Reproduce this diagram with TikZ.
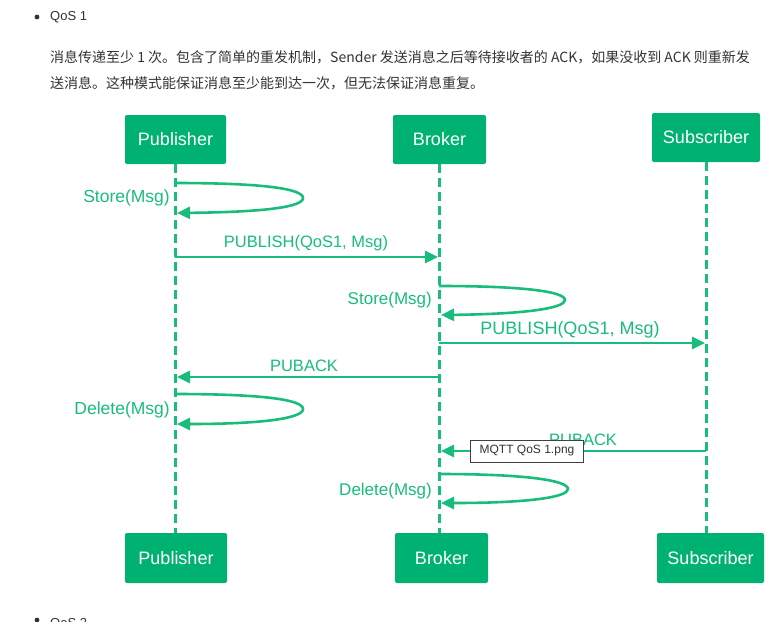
\documentclass[tikz,border=0pt]{standalone}
\usepackage{fontspec}
\setmainfont{Liberation Sans}
\newfontfamily\cjk{Noto Sans CJK SC}
\usetikzlibrary{arrows.meta}
\definecolor{boxgreen}{HTML}{00B272}
\definecolor{linegreen}{HTML}{19BD7B}
\definecolor{bodytext}{HTML}{333333}
\tikzset{
  actor/.style={fill=boxgreen, rounded corners=2pt, minimum width=101pt, minimum height=49pt, text=white, font=\fontsize{18}{21}\selectfont, inner sep=0pt},
  lifeline/.style={draw=linegreen, line width=3pt, dash pattern=on 9pt off 5pt},
  msg/.style={draw=linegreen, line width=2.6pt, -{Triangle[length=13pt,width=12pt]}},
  lbl/.style={text=linegreen, font=\fontsize{16.5}{19}\selectfont, inner sep=0pt},
  tip/.style={draw=black!75, fill=white, line width=0.8pt, font=\fontsize{12}{14}\selectfont, text=bodytext, inner sep=0pt, minimum width=113pt, minimum height=22pt}
}
\begin{document}
\begin{tikzpicture}[x=1pt,y=-1pt]
\useasboundingbox (0,0) rectangle (778,621);
\fill[white] (0,0) rectangle (778,621);
% header text
\node[circle, fill=bodytext, inner sep=1.7pt] (b1) at (37,17) {};
\node[anchor=west, text=bodytext, font=\fontsize{13}{15}\selectfont, inner sep=0pt] (h1) at (50,17) {QoS 1};
\node[anchor=west, text=bodytext, font=\cjk\fontsize{14}{16}\selectfont, inner sep=0pt] (p1) at (50,57) {消息传递至少 1 次。包含了简单的重发机制，Sender 发送消息之后等待接收者的 ACK，如果没收到 ACK 则重新发};
\node[anchor=west, text=bodytext, font=\cjk\fontsize{14}{16}\selectfont, inner sep=0pt] (p2) at (50,83) {送消息。这种模式能保证消息至少能到达一次，但无法保证消息重复。};
% actors
\node[actor] (pubT) at (175.5,139.5) {Publisher};
\node[actor, minimum width=93pt] (broT) at (439.5,139.5) {Broker};
\node[actor, minimum width=108pt] (subT) at (706,137.5) {Subscriber};
\node[actor, minimum width=102pt, minimum height=50pt] (pubB) at (176,558) {Publisher};
\node[actor, minimum width=93pt, minimum height=50pt] (broB) at (441.5,558) {Broker};
\node[actor, minimum width=107pt, minimum height=50pt] (subB) at (710.5,558) {Subscriber};
% lifelines
\draw[lifeline] (175,164) -- (175,533);
\draw[lifeline] (439,164) -- (439,533);
\draw[lifeline] (706,162) -- (706,533);
% coordinates on lifelines
\coordinate (p1a) at (175,183); \coordinate (p1b) at (177,213);
\coordinate (pA) at (175,257); \coordinate (bA) at (438,257);
\coordinate (b1a) at (439,286); \coordinate (b1b) at (441,315);
\coordinate (bB) at (439,343); \coordinate (sB) at (705,343);
\coordinate (bC) at (439,377); \coordinate (pC) at (177,377);
\coordinate (p2a) at (175,394); \coordinate (p2b) at (177,424);
\coordinate (sD) at (706,451); \coordinate (bD) at (441,451);
\coordinate (b2a) at (439,474); \coordinate (b2b) at (441,503);
% self loop Publisher Store
\draw[msg] (p1a) .. controls (265,183) and (303,189) .. (303,198) .. controls (303,207) and (265,212) .. (p1b);
\node[lbl, anchor=east, font=\fontsize{17.5}{20}\selectfont] (l1) at (170,198) {Store(Msg)};
% publish to broker
\draw[msg] (pA) -- (bA);
\node[lbl] (l2) at (306,243) {PUBLISH(QoS1, Msg)};
% broker store
\draw[msg] (b1a) .. controls (527,286) and (565,292) .. (565,300) .. controls (565,308) and (527,314) .. (b1b);
\node[lbl, anchor=east, font=\fontsize{17}{20}\selectfont] (l3) at (432,300) {Store(Msg)};
% publish to subscriber
\draw[msg] (bB) -- (sB);
\node[lbl, font=\fontsize{18}{21}\selectfont] (l4) at (570,330) {PUBLISH(QoS1, Msg)};
% puback to publisher
\draw[msg] (bC) -- (pC);
\node[lbl] (l5) at (304,366) {PUBACK};
% publisher delete
\draw[msg] (p2a) .. controls (265,394) and (303,400) .. (303,409) .. controls (303,418) and (265,424) .. (p2b);
\node[lbl, anchor=east, font=\fontsize{17.5}{20}\selectfont] (l6) at (170,410) {Delete(Msg)};
% puback to broker
\draw[msg] (sD) -- (bD);
\node[lbl] (l7) at (583,440) {PUBACK};
% broker delete
\draw[msg] (b2a) .. controls (530,474) and (568,481) .. (568,489) .. controls (568,497) and (530,503) .. (b2b);
\node[lbl, anchor=east, font=\fontsize{17}{20}\selectfont] (l8) at (432,491) {Delete(Msg)};
% tooltip
\node[tip] (tt) at (527,451) {MQTT QoS 1.png};
% next bullet, cut off at the page edge as in the reference
\node[circle, fill=bodytext, inner sep=1.7pt] (b2) at (37,620) {};
\node[anchor=west, text=bodytext, font=\fontsize{13}{15}\selectfont, inner sep=0pt] (h2) at (50,624) {QoS 2};
\end{tikzpicture}
\end{document}
